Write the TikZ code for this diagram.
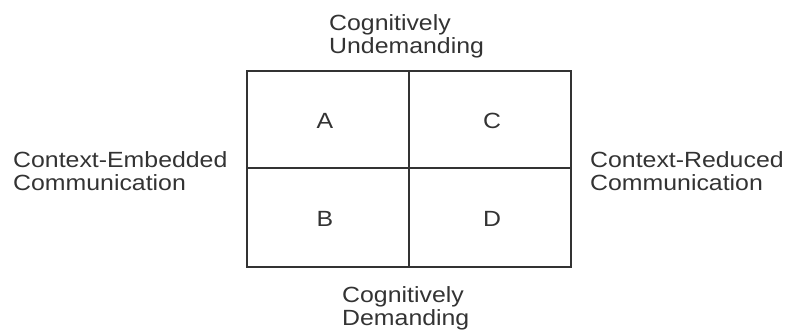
\documentclass[tikz,border=0pt]{standalone}
\usepackage{fontspec}
\setmainfont[FakeStretch=1.13]{Liberation Sans}
\definecolor{ink}{HTML}{333333}
\begin{document}
\begin{tikzpicture}[x=1pt,y=-1pt,
  lbl/.style={inner sep=0pt,anchor=base west,align=left,text=ink,font=\fontsize{22}{23}\selectfont},
  cell/.style={inner sep=0pt,anchor=base,text=ink,font=\fontsize{22}{23}\selectfont},
  gridline/.style={draw=ink,line width=2pt}]
\useasboundingbox (0,0) rectangle (789,333);
\coordinate (tl) at (247,71);
\coordinate (br) at (571,267);
\coordinate (tm) at (409,71);
\coordinate (bm) at (409,267);
\coordinate (lm) at (247,168);
\coordinate (rm) at (571,168);
\draw[gridline] (tl) rectangle (br);
\draw[gridline] (tm) -- (bm);
\draw[gridline] (lm) -- (rm);
\node[cell] (A) at (325,128) {A};
\node[cell] (C) at (492,128) {C};
\node[cell] (B) at (325,226) {B};
\node[cell] (D) at (492,226) {D};
\node[lbl] (top) at (329,53) {Cognitively\\Undemanding};
\node[lbl] (bot) at (342,325) {Cognitively\\Demanding};
\node[lbl] (left) at (13,190) {Context-Embedded\\Communication};
\node[lbl] (right) at (590,190) {Context-Reduced\\Communication};
\end{tikzpicture}
\end{document}
